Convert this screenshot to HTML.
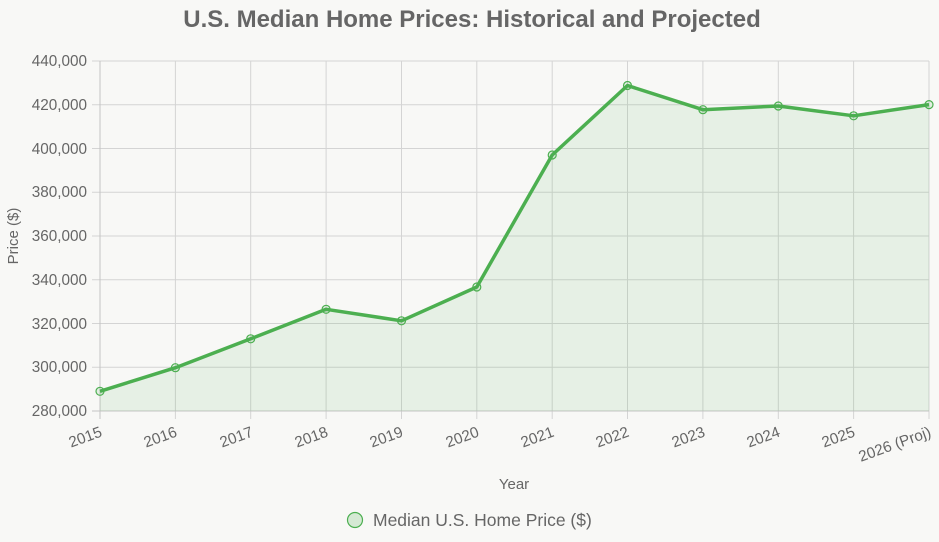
<!DOCTYPE html>
<html><head><meta charset="utf-8"><style>
html,body{margin:0;padding:0;background:#f8f8f6;}
svg{display:block;font-family:"Liberation Sans",sans-serif;}
</style></head><body>
<svg width="939" height="542" viewBox="0 0 939 542">
<rect width="939" height="542" fill="#f8f8f6"/>
<text x="472" y="27" text-anchor="middle" font-size="24" font-weight="bold" fill="#666">U.S. Median Home Prices: Historical and Projected</text>
<g stroke="#d4d4d4" stroke-width="1">
<line x1="92" y1="61" x2="929" y2="61"/><line x1="92" y1="104.75" x2="929" y2="104.75"/>
<line x1="92" y1="148.5" x2="929" y2="148.5"/><line x1="92" y1="192.25" x2="929" y2="192.25"/>
<line x1="92" y1="236" x2="929" y2="236"/><line x1="92" y1="279.75" x2="929" y2="279.75"/>
<line x1="92" y1="323.5" x2="929" y2="323.5"/><line x1="92" y1="367.25" x2="929" y2="367.25"/>
<line x1="175.4" y1="61" x2="175.4" y2="419"/><line x1="250.7" y1="61" x2="250.7" y2="419"/>
<line x1="326.1" y1="61" x2="326.1" y2="419"/><line x1="401.5" y1="61" x2="401.5" y2="419"/>
<line x1="476.8" y1="61" x2="476.8" y2="419"/><line x1="552.2" y1="61" x2="552.2" y2="419"/>
<line x1="627.5" y1="61" x2="627.5" y2="419"/><line x1="702.9" y1="61" x2="702.9" y2="419"/>
<line x1="778.3" y1="61" x2="778.3" y2="419"/><line x1="853.6" y1="61" x2="853.6" y2="419"/>
<line x1="929" y1="61" x2="929" y2="419"/>
</g>
<g stroke="#c4c4c4" stroke-width="1">
<line x1="100" y1="61" x2="100" y2="419"/><line x1="92" y1="411" x2="929" y2="411"/>
</g>
<polygon fill="rgba(76,175,80,0.1)" points="100,391.3 175.4,367.7 250.7,338.8 326.1,309.3 401.5,320.8 476.8,287 552.2,155 627.5,85.5 702.9,109.7 778.3,106 853.6,115.8 929,104.6 929,411 100,411"/>
<polyline fill="none" stroke="#4caf50" stroke-width="3.5" stroke-linejoin="round" points="100,391.3 175.4,367.7 250.7,338.8 326.1,309.3 401.5,320.8 476.8,287 552.2,155 627.5,85.5 702.9,109.7 778.3,106 853.6,115.8 929,104.6"/>
<g fill="rgba(76,175,80,0.12)" stroke="#4caf50" stroke-width="1.2">
<circle cx="100" cy="391.3" r="4"/><circle cx="175.4" cy="367.7" r="4"/><circle cx="250.7" cy="338.8" r="4"/>
<circle cx="326.1" cy="309.3" r="4"/><circle cx="401.5" cy="320.8" r="4"/><circle cx="476.8" cy="287" r="4"/>
<circle cx="552.2" cy="155" r="4"/><circle cx="627.5" cy="85.5" r="4"/><circle cx="702.9" cy="109.7" r="4"/>
<circle cx="778.3" cy="106" r="4"/><circle cx="853.6" cy="115.8" r="4"/><circle cx="929" cy="104.6" r="4"/>
</g>
<g font-size="15.3" fill="#666" text-anchor="end">
<text x="87" y="66">440,000</text><text x="87" y="110">420,000</text><text x="87" y="154">400,000</text>
<text x="87" y="197">380,000</text><text x="87" y="241">360,000</text><text x="87" y="285">340,000</text>
<text x="87" y="329">320,000</text><text x="87" y="372">300,000</text><text x="87" y="416">280,000</text>
</g>
<g font-size="15.3" fill="#666" text-anchor="end">
<text transform="translate(103,436) rotate(-20)">2015</text>
<text transform="translate(178,436) rotate(-20)">2016</text>
<text transform="translate(254,436) rotate(-20)">2017</text>
<text transform="translate(329,436) rotate(-20)">2018</text>
<text transform="translate(404,436) rotate(-20)">2019</text>
<text transform="translate(480,436) rotate(-20)">2020</text>
<text transform="translate(555,436) rotate(-20)">2021</text>
<text transform="translate(630,436) rotate(-20)">2022</text>
<text transform="translate(706,436) rotate(-20)">2023</text>
<text transform="translate(781,436) rotate(-20)">2024</text>
<text transform="translate(856,436) rotate(-20)">2025</text>
<text transform="translate(932,436) rotate(-20)">2026 (Proj)</text>
</g>
<text x="514" y="489" font-size="15" fill="#666" text-anchor="middle">Year</text>
<text transform="translate(18,236) rotate(-90)" font-size="15" fill="#666" text-anchor="middle">Price ($)</text>
<circle cx="355" cy="520" r="7.5" fill="rgba(76,175,80,0.2)" stroke="#4caf50" stroke-width="1.2"/>
<text x="373" y="526" font-size="17.5" fill="#666">Median U.S. Home Price ($)</text>
</svg>
</body></html>
